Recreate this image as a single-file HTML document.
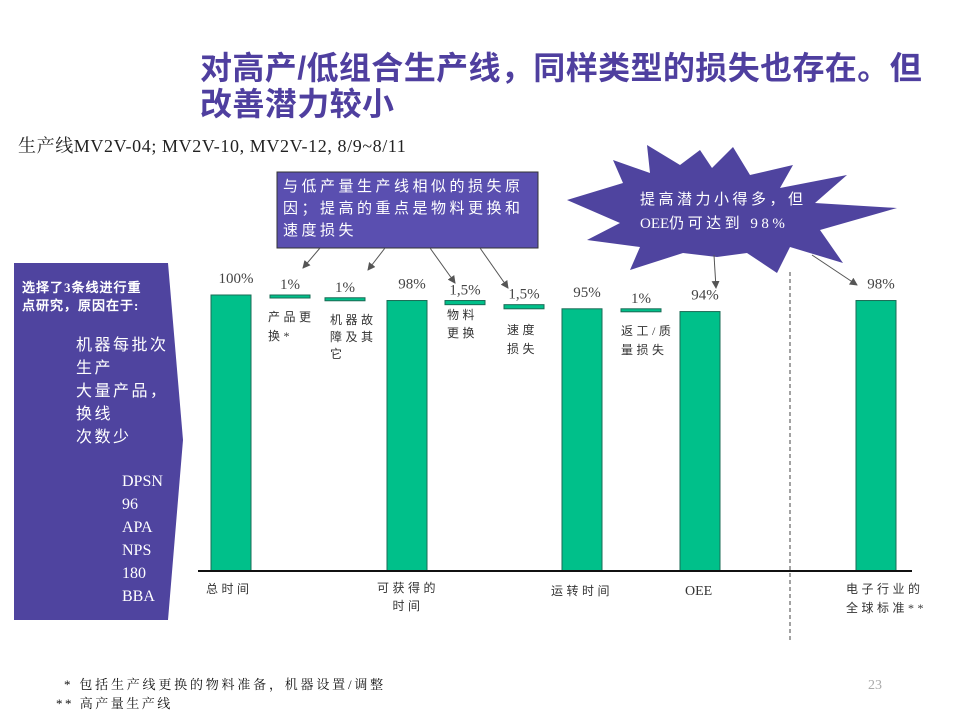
<!DOCTYPE html>
<html><head><meta charset="utf-8">
<style>
body{margin:0;background:#fff;}
#root{position:relative;width:960px;height:720px;overflow:hidden;background:#fff;font-family:"Liberation Serif","Noto Serif CJK SC",serif;}
.t{position:absolute;white-space:nowrap;}
.s{letter-spacing:3.5px}
</style></head>
<body>
<div id="root">
<div class="t" style="left:200px;top:50px;font:bold 32px 'Liberation Sans','Noto Sans CJK SC',sans-serif;color:#4f3f9f;line-height:36px;letter-spacing:0.4px">对高产/低组合生产线，同样类型的损失也存在。但<br>改善潜力较小</div>
<div class="t" style="left:18px;top:132px;font-size:18px;color:#222;letter-spacing:0.6px">生产线MV2V-04; MV2V-10, MV2V-12, 8/9~8/11</div>
<svg id="chart" width="960" height="720" style="position:absolute;left:0;top:0"></svg>
<div class="t" style="left:64px;top:674px;font-size:13px;color:#111;letter-spacing:2.8px">* 包括生产线更换的物料准备，机器设置/调整</div>
<div class="t" style="left:56px;top:693px;font-size:13px;color:#111;letter-spacing:2.5px">** 高产量生产线</div>
<div class="t" style="left:868px;top:678px;font-size:14px;color:#aaa">23</div>
</div>
<script>
const categories=["总时间","产品更换*","机器故障及其它","可获得的时间","物料更换","速度损失","运转时间","返工/质量损失","OEE","电子行业的全球标准**"];
const values=[100,1,1,98,1.5,1.5,95,1,94,98];
const isTotal=[true,false,false,true,false,false,true,false,true,true];
const valueLabels=["100%","1%","1%","98%","1,5%","1,5%","95%","1%","94%","98%"];
const NS="http://www.w3.org/2000/svg";
const svg=document.getElementById('chart');
const base=571, scale=2.76;
const y=v=>base-v*scale;
const xs=[211,270,325,387,445,504,562,621,680,856];
const bw=40;
function mk(tag,attrs,parent){const e=document.createElementNS(NS,tag);for(const k in attrs)e.setAttribute(k,attrs[k]);(parent||svg).appendChild(e);return e;}
let lb=mk('polygon',{points:"14,263 168,263 183,440 168,620 14,620",fill:"#4f449f"});


let cb=mk('rect',{x:277,y:172,width:261,height:76,fill:"#5a4fb0",stroke:"#333","stroke-width":1});


let sb=mk('polygon',{points:"567,200 623,183 613,160 650,173 647,145 680,165 700,150 712,168 733,147 750,175 793,165 780,188 847,175 815,203 897,208 820,230 843,263 790,247 777,273 747,253 717,257 683,253 630,270 640,247 587,240 620,223",fill:"#4f449f"});


mk('defs',{}).innerHTML='<marker id="ah" markerWidth="8" markerHeight="8" refX="7" refY="4" orient="auto"><path d="M0,0 L8,4 L0,8 z" fill="#555"/></marker>';
[[320,248,303,268],[385,248,368,270],[430,248,455,283],[480,248,508,288],[714,255,716,288],[812,255,857,285]].forEach(a=>{
 let l=mk('line',{x1:a[0],y1:a[1],x2:a[2],y2:a[3],stroke:"#555","stroke-width":1,"marker-end":"url(#ah)"});
 
 
});
let ds=mk('line',{x1:790,y1:272,x2:790,y2:640,stroke:"#444","stroke-width":1,"stroke-dasharray":"4,3"});


let level=0;
categories.forEach((c,i)=>{
 let top,h;
 if(isTotal[i]){level=values[i];top=y(values[i]);h=base-top;}
 else{top=y(level);h=Math.max(3,values[i]*scale);level-=values[i];}
 let r=mk('rect',{x:xs[i],y:top,width:bw,height:h,fill:"#00c08a",stroke:"#1a6b55","stroke-width":1});
 
 
 let t=mk('text',{x:xs[i]+bw/2+(isTotal[i]?5:0),y:top-(isTotal[i]?12:6),"text-anchor":"middle","font-size":"15","fill":"#444","font-family":"Liberation Serif,serif"});
 t.textContent=valueLabels[i];
 
 
});
let ax=mk('line',{x1:198,y1:base,x2:912,y2:base,stroke:"#111","stroke-width":2});


</script>
<div class="t" style="left:283px;top:176px;font-size:15px;color:#fff;line-height:22px;letter-spacing:3.5px">与低产量生产线相似的损失原<br>因；提高的重点是物料更换和<br>速度损失</div>
<div class="t" style="left:640px;top:188px;font-size:15px;color:#fff;line-height:24px;letter-spacing:3.5px">提高潜力小得多，但<br><span style="letter-spacing:0">OEE</span>仍可达到 98%</div>
<div class="t" style="left:22px;top:279px;font-size:13px;font-weight:bold;color:#fff;line-height:18px;letter-spacing:1px">选择了3条线进行重<br>点研究，原因在于:</div>
<div class="t" style="left:76px;top:334px;font-size:16px;color:#fff;line-height:23px;letter-spacing:2.5px">机器每批次<br>生产<br>大量产品，<br>换线<br>次数少</div>
<div class="t" style="left:122px;top:470px;font-size:16px;color:#fff;line-height:23px">DPSN<br>96<br>APA<br>NPS<br>180<br>BBA</div>
<div class="t s" style="left:268px;top:308px;font-size:12px;color:#333;line-height:19px">产品更<br>换*</div>
<div class="t s" style="left:330px;top:312px;font-size:12px;color:#333;line-height:17px">机器故<br>障及其<br>它</div>
<div class="t s" style="left:447px;top:306px;font-size:12px;color:#333;line-height:18px">物料<br>更换</div>
<div class="t s" style="left:507px;top:321px;font-size:12px;color:#333;line-height:19px">速度<br>损失</div>
<div class="t s" style="left:621px;top:322px;font-size:12px;color:#333;line-height:19px">返工/质<br>量损失</div>
<div class="t s" style="left:206px;top:580px;font-size:12px;color:#333">总时间</div>
<div class="t s" style="left:377px;top:579px;font-size:12px;color:#333;line-height:18px;text-align:center">可获得的<br>时间</div>
<div class="t s" style="left:551px;top:582px;font-size:12px;color:#333">运转时间</div>
<div class="t" style="left:685px;top:584px;font-size:14px;color:#333">OEE</div>
<div class="t s" style="left:846px;top:580px;font-size:12px;color:#333;line-height:19px">电子行业的<br>全球标准**</div>
</body></html>
